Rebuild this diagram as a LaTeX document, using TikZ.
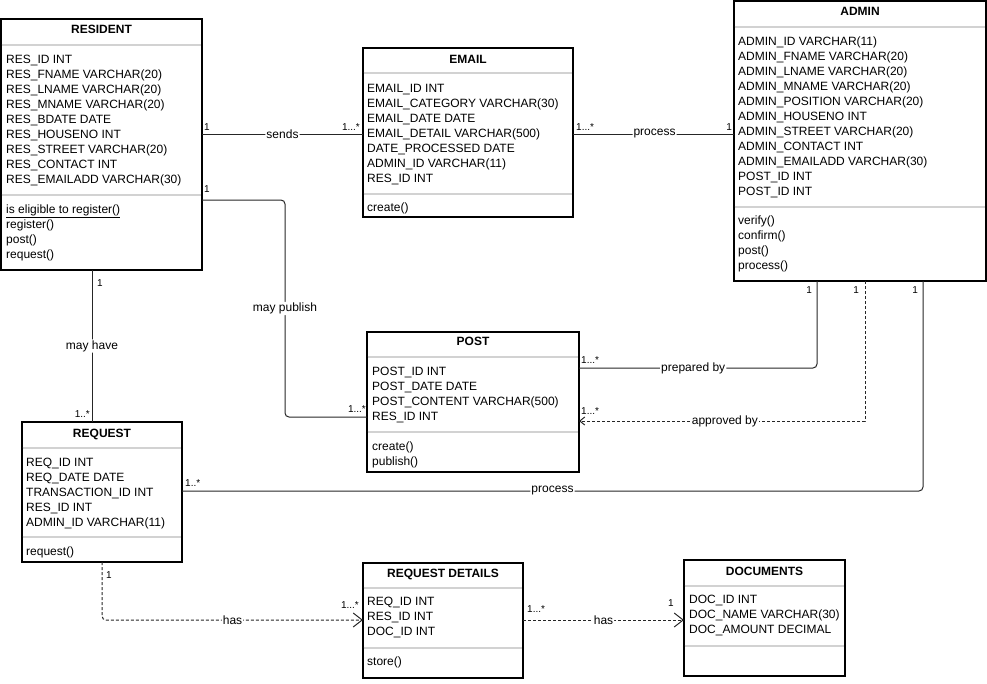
\documentclass[tikz,border=0pt]{standalone}
\usepackage{fontspec}
\setmainfont{Liberation Sans}
\usetikzlibrary{arrows.meta}

\begin{document}
\begin{tikzpicture}[x=1pt,y=-1pt,
  every node/.style={inner sep=0pt,font=\fontsize{12}{15}\selectfont},
  classbox/.style={draw=black,line width=1.3pt,anchor=north west,outer sep=0pt},
  ctitle/.style={anchor=base,font=\fontsize{12}{15}\selectfont\bfseries},
  cattr/.style={anchor=base west},
  sepline/.style={gray!35,line width=1.6pt,shorten <=0.7pt,shorten >=0.7pt},
  assoc/.style={draw=black!85,line width=1pt,rounded corners=4pt},
  dep/.style={assoc,dash pattern=on 3pt off 2pt},
  mult/.style={font=\fontsize{10}{12}\selectfont,anchor=base west},
  lbl/.style={fill=white,inner sep=1pt}]
\useasboundingbox (0,0) rectangle (987,683);

% RESIDENT
\node[classbox,minimum width=201pt,minimum height=251pt] (resident) at (1,19) {};
\node[ctitle] (residentT) at (resident.north |- 0,33) {RESIDENT};
\draw[sepline] (resident.west |- 0,45) -- (resident.east |- 0,45);
\draw[sepline] (resident.west |- 0,195) -- (resident.east |- 0,195);
\foreach \t [count=\i from 0] in {RES\_ID INT,RES\_FNAME VARCHAR(20),RES\_LNAME VARCHAR(20),
  RES\_MNAME VARCHAR(20),RES\_BDATE DATE,RES\_HOUSENO INT,RES\_STREET VARCHAR(20),
  RES\_CONTACT INT,RES\_EMAILADD VARCHAR(30)}
  \node[cattr] (residentA\i) at (6,63+15*\i) {\t};
\foreach \t [count=\i from 0] in {\underline{is eligible to register()},register(),post(),request()}
  \node[cattr] (residentM\i) at (6,213+15*\i) {\t};

% EMAIL
\node[classbox,minimum width=210pt,minimum height=169pt] (email) at (363,48) {};
\node[ctitle] (emailT) at (email.north |- 0,63) {EMAIL};
\draw[sepline] (email.west |- 0,73) -- (email.east |- 0,73);
\draw[sepline] (email.west |- 0,194) -- (email.east |- 0,194);
\foreach \t [count=\i from 0] in {EMAIL\_ID INT,EMAIL\_CATEGORY VARCHAR(30),EMAIL\_DATE DATE,
  EMAIL\_DETAIL VARCHAR(500),DATE\_PROCESSED DATE,ADMIN\_ID VARCHAR(11),RES\_ID INT}
  \node[cattr] (emailA\i) at (367,92+15*\i) {\t};
\node[cattr] (emailM0) at (367,211) {create()};

% ADMIN
\node[classbox,minimum width=252pt,minimum height=280pt] (admin) at (734,1) {};
\node[ctitle] (adminT) at (admin.north |- 0,15) {ADMIN};
\draw[sepline] (admin.west |- 0,27) -- (admin.east |- 0,27);
\draw[sepline] (admin.west |- 0,207) -- (admin.east |- 0,207);
\foreach \t [count=\i from 0] in {ADMIN\_ID VARCHAR(11),ADMIN\_FNAME VARCHAR(20),ADMIN\_LNAME VARCHAR(20),
  ADMIN\_MNAME VARCHAR(20),ADMIN\_POSITION VARCHAR(20),ADMIN\_HOUSENO INT,ADMIN\_STREET VARCHAR(20),
  ADMIN\_CONTACT INT,ADMIN\_EMAILADD VARCHAR(30),POST\_ID INT,POST\_ID INT}
  \node[cattr] (adminA\i) at (738,45+15*\i) {\t};
\foreach \t [count=\i from 0] in {verify(),confirm(),post(),process()}
  \node[cattr] (adminM\i) at (738,224+15*\i) {\t};

% POST
\node[classbox,minimum width=212pt,minimum height=140pt] (post) at (367,332) {};
\node[ctitle] (postT) at (post.north |- 0,345) {POST};
\draw[sepline] (post.west |- 0,357) -- (post.east |- 0,357);
\draw[sepline] (post.west |- 0,432) -- (post.east |- 0,432);
\foreach \t [count=\i from 0] in {POST\_ID INT,POST\_DATE DATE,POST\_CONTENT VARCHAR(500),RES\_ID INT}
  \node[cattr] (postA\i) at (372,375+15*\i) {\t};
\foreach \t [count=\i from 0] in {create(),publish()}
  \node[cattr] (postM\i) at (372,450+15*\i) {\t};

% REQUEST
\node[classbox,minimum width=160pt,minimum height=140pt] (request) at (22,422) {};
\node[ctitle] (requestT) at (request.north |- 0,437) {REQUEST};
\draw[sepline] (request.west |- 0,448) -- (request.east |- 0,448);
\draw[sepline] (request.west |- 0,537) -- (request.east |- 0,537);
\foreach \t [count=\i from 0] in {REQ\_ID INT,REQ\_DATE DATE,TRANSACTION\_ID INT,RES\_ID INT,ADMIN\_ID VARCHAR(11)}
  \node[cattr] (requestA\i) at (26,466+15*\i) {\t};
\node[cattr] (requestM0) at (26,555) {request()};

% REQUEST DETAILS
\node[classbox,minimum width=160pt,minimum height=115pt] (reqdet) at (363,563) {};
\node[ctitle] (reqdetT) at (reqdet.north |- 0,577) {REQUEST DETAILS};
\draw[sepline] (reqdet.west |- 0,588) -- (reqdet.east |- 0,588);
\draw[sepline] (reqdet.west |- 0,648) -- (reqdet.east |- 0,648);
\foreach \t [count=\i from 0] in {REQ\_ID INT,RES\_ID INT,DOC\_ID INT}
  \node[cattr] (reqdetA\i) at (367,605+15*\i) {\t};
\node[cattr] (reqdetM0) at (367,665) {store()};

% DOCUMENTS
\node[classbox,minimum width=161pt,minimum height=116pt] (docs) at (684,560) {};
\node[ctitle] (docsT) at (docs.north |- 0,575) {DOCUMENTS};
\draw[sepline] (docs.west |- 0,586) -- (docs.east |- 0,586);
\draw[sepline] (docs.west |- 0,646) -- (docs.east |- 0,646);
\foreach \t [count=\i from 0] in {DOC\_ID INT,DOC\_NAME VARCHAR(30),DOC\_AMOUNT DECIMAL}
  \node[cattr] (docsA\i) at (689,603+15*\i) {\t};

% connectors
\draw[assoc] (resident.east |- 0,134) -- node[lbl] (sends) {sends} (email.west |- 0,134);
\draw[assoc] (email.east |- 0,134) -- node[lbl,xshift=1pt] (processE) {process} (admin.west |- 0,134);
\draw[assoc] (resident.east |- 0,200) -- (285,200) -- node[lbl] (publish) {may publish} (285,417) -- (post.west |- 0,417);
\draw[assoc] (resident.south -| 92,0) -- node[lbl] (mayhave) {may have} (request.north -| 92,0);
\draw[assoc] (admin.south -| 817,0) -- (817,368) -- node[lbl,pos=0.52] (prepared) {prepared by} (post.east |- 0,368);
\draw[dep,rounded corners=0pt,-{Straight Barb[length=5pt,width=8pt]}] (admin.south -| 865,0) -- (865,421)
  -- node[lbl,pos=0.49] (approved) {approved by} (post.east |- 0,421);
\draw[assoc] (admin.south -| 923,0) -- (923,491) -- node[lbl] (processR) {process} (request.east |- 0,491);
\draw[dep,-{Straight Barb[length=9pt,width=14pt]}] (request.south -| 102,0) -- (102,620)
  -- node[lbl] (hasR) {has} (reqdet.west |- 0,620);
\draw[dep,-{Straight Barb[length=9pt,width=14pt]}] (reqdet.east |- 0,620) -- node[lbl] (hasD) {has} (docs.west |- 0,620);

% multiplicities
\node[mult] (m1) at (204,130) {1};
\node[mult,anchor=base east] (m2) at (360,130) {1...*};
\node[mult] (m3) at (576,130) {1...*};
\node[mult,anchor=base east] (m4) at (732,130) {1};
\node[mult] (m5) at (204,192) {1};
\node[mult,anchor=base east] (m6) at (366,412) {1...*};
\node[mult] (m7) at (97,286) {1};
\node[mult,anchor=base east] (m8) at (90,417) {1..*};
\node[mult,anchor=base east] (m9) at (812,293) {1};
\node[mult,anchor=base east] (m10) at (859,293) {1};
\node[mult,anchor=base east] (m11) at (918,293) {1};
\node[mult] (m12) at (581,363) {1...*};
\node[mult] (m13) at (581,414) {1...*};
\node[mult] (m14) at (185,486) {1..*};
\node[mult] (m15) at (106,578) {1};
\node[mult,anchor=base east] (m16) at (359,608) {1...*};
\node[mult] (m17) at (527,612) {1...*};
\node[mult,anchor=base east] (m18) at (674,606) {1};
\end{tikzpicture}
\end{document}
